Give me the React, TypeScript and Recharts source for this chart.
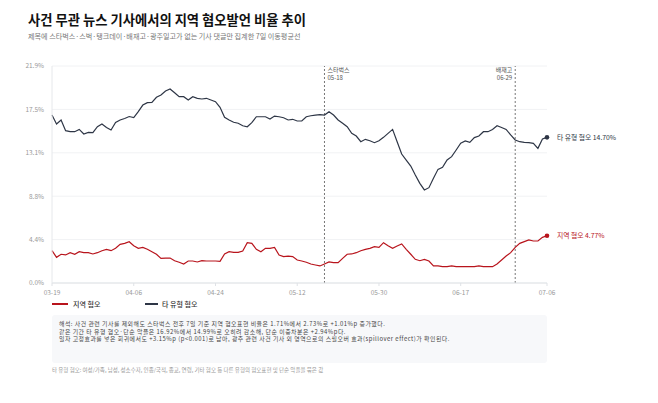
import React from 'react';
import { LineChart, Line, XAxis, YAxis, CartesianGrid, ReferenceLine } from 'recharts';

// 03-19 ~ 07-06, daily points (7-day moving average)
const dates: string[] = Array.from({ length: 110 }, (_, i) => {
  const d = new Date(2025, 2, 19 + i);
  return `${String(d.getMonth() + 1).padStart(2, '0')}-${String(d.getDate()).padStart(2, '0')}`;
});

const regionHate = [
  3.26, 2.59, 2.9, 2.83, 3.06, 2.9, 3.16, 3.06, 3.06, 2.93,
  3.06, 3.26, 3.4, 3.26, 3.5, 3.9, 4.0, 4.17, 3.76, 3.5,
  3.6, 3.4, 3.16, 2.9, 2.49, 2.52, 2.52, 2.25, 2.09, 1.92,
  2.22, 2.22, 2.12, 2.25, 2.22, 2.22, 2.22, 2.19, 2.93, 3.16,
  3.1, 3.1, 3.23, 4.07, 4.0, 3.4, 3.16, 3.5, 3.5, 3.6,
  2.83, 2.66, 2.72, 2.66, 2.32, 2.22, 2.09, 1.92, 1.82, 1.72,
  1.92, 2.12, 2.05, 2.05, 2.49, 2.9, 2.93, 3.06, 3.26, 3.4,
  3.5, 3.67, 3.6, 4.07, 3.76, 3.5, 3.73, 3.94, 3.4, 2.9,
  2.39, 2.25, 2.39, 2.22, 1.72, 1.72, 1.65, 1.65, 1.72, 1.65,
  1.65, 1.65, 1.65, 1.65, 1.72, 1.65, 1.65, 1.65, 1.92, 2.32,
  2.72, 3.06, 3.6, 4.0, 4.17, 4.34, 4.24, 4.24, 4.61, 4.77,
];

const otherHate = [
  16.95, 16.05, 16.45, 15.37, 15.27, 15.27, 15.5, 15.04, 15.2, 15.17,
  15.78, 16.05, 15.7, 15.44, 16.2, 16.45, 16.6, 16.8, 16.7, 17.3,
  17.96, 18.2, 18.23, 18.74, 18.97, 19.38, 19.58, 19.2, 18.8, 18.8,
  18.47, 18.8, 18.64, 18.57, 18.64, 18.47, 18.3, 17.73, 16.72, 16.45,
  16.22, 16.12, 15.87, 15.77, 16.18, 16.78, 16.78, 16.78, 16.55, 16.85,
  16.78, 16.68, 16.45, 16.52, 16.35, 16.35, 16.78, 16.88, 16.95, 17.0,
  16.95, 17.29, 16.95, 16.45, 16.12, 15.77, 15.1, 14.83, 14.26, 14.5,
  14.36, 14.16, 14.36, 14.7, 15.1, 15.5, 14.26, 13.02, 12.41, 11.8,
  10.9, 10.06, 9.39, 9.62, 10.57, 11.47, 11.68, 12.41, 12.75, 13.42,
  14.1, 14.33, 14.2, 14.67, 14.83, 15.27, 15.27, 15.5, 15.87, 15.7,
  15.5, 14.94, 14.43, 14.26, 14.2, 14.16, 14.1, 13.59, 14.53, 14.7,
];

const xTicks = ['03-19', '04-06', '04-24', '05-12', '05-30', '06-17', '07-06'];
const yTicks = [0, 4.38, 8.76, 13.14, 17.52, 21.9];
const events = [
  { date: '05-18', name: '스타벅스', side: 'right' },
  { date: '06-29', name: '배재고', side: 'left' },
];

const notes = [
  '해석: 사건 관련 기사를 제외해도 스타벅스 전후 7일 기준 지역 혐오표현 비율은 1.71%에서 2.73%로 +1.01%p 증가했다.',
  '같은 기간 타 유형 혐오·단순 악플은 16.92%에서 14.99%로 오히려 감소해, 단순 이중차분은 +2.94%p다.',
  '일자 고정효과를 넣은 회귀에서도 +3.15%p (p<0.001)로 남아, 광주 관련 사건 기사 외 영역으로의 스필오버 효과(spillover effect)가 확인된다.',
];

const data = dates.map((date, i) => ({ date, region: regionHate[i], other: otherHate[i] }));

const RED = '#b8141c';
const DARK = '#2e3646';
const FONT = '"Noto Sans CJK KR", "Noto Sans", sans-serif';

const endDot = (color: string, label: string) => (props: any) => {
  const { cx, cy, index } = props;
  if (index !== data.length - 1) return <g key={`d${index}`} />;
  return (
    <g key={`d${index}`}>
      <circle cx={cx} cy={cy} r={2.3} fill={color} />
      <text x={cx + 10} y={cy} dy="0.35em" fontSize={6.8} fill={color} fontFamily={FONT}>
        {label}
      </text>
    </g>
  );
};

const eventLabel = (name: string, date: string, side: string) => (props: any) => {
  const { viewBox } = props;
  const x = side === 'right' ? viewBox.x + 3 : viewBox.x - 3;
  const anchor = side === 'right' ? 'start' : 'end';
  return (
    <g>
      <text x={x} y={viewBox.y + 6} fontSize={6} fill="#555" textAnchor={anchor} fontFamily={FONT}>{name}</text>
      <text x={x} y={viewBox.y + 13.5} fontSize={6} fill="#555" textAnchor={anchor} fontFamily={FONT}>{date}</text>
    </g>
  );
};

export default function App() {
  return (
    <div style={{ position: 'relative', width: 658, height: 403, background: '#fff', fontFamily: FONT, overflow: 'hidden' }}>
      <style>{'body{margin:0}'}</style>
      <div style={{ position: 'absolute', left: 28, top: 10, fontSize: 13.3, fontWeight: 700, color: '#111', whiteSpace: 'nowrap' }}>
        사건 무관 뉴스 기사에서의 지역 혐오발언 비율 추이
      </div>
      <div style={{ position: 'absolute', left: 28, top: 31, fontSize: 7.1, color: '#777', whiteSpace: 'nowrap' }}>
        제목에 스타벅스·스벅·탱크데이·배재고·광주일고가 없는 기사 댓글만 집계한 7일 이동평균선
      </div>
      <div style={{ position: 'absolute', left: 0, top: 0 }}>
        <LineChart width={658} height={300} data={data} margin={{ top: 66, right: 111, bottom: 3, left: 0 }}>
          <CartesianGrid vertical={false} stroke="#f1f2f4" />
          <XAxis
            dataKey="date"
            ticks={xTicks}
            interval={0}
            height={14}
            tickSize={3}
            tickMargin={4}
            stroke="#dfe2e6"
            tick={{ fontSize: 6.5, fill: '#999', fontFamily: FONT }}
          />
          <YAxis
            domain={[0, 21.9]}
            ticks={yTicks}
            width={52}
            tickLine={false}
            stroke="#e6e8eb"
            tickFormatter={(v: number) => `${v.toFixed(1)}%`}
            tick={{ fontSize: 6.5, fill: '#999', fontFamily: FONT }}
          />
          {events.map((e) => (
            <ReferenceLine key={e.date} x={e.date} stroke="#777" strokeDasharray="2 2" label={eventLabel(e.name, e.date, e.side)} />
          ))}
          <Line type="linear" dataKey="other" stroke={DARK} strokeWidth={1.2} dot={endDot(DARK, '타 유형 혐오 14.70%')} activeDot={false} isAnimationActive={false} />
          <Line type="linear" dataKey="region" stroke={RED} strokeWidth={1.2} dot={endDot(RED, '지역 혐오 4.77%')} activeDot={false} isAnimationActive={false} />
        </LineChart>
      </div>
      <div style={{ position: 'absolute', left: 52, top: 299, display: 'flex', fontSize: 7, color: '#333', fontWeight: 500 }}>
        <div style={{ display: 'flex', alignItems: 'center', width: 93 }}>
          <span style={{ display: 'inline-block', width: 16, height: 1.5, background: RED, marginRight: 5 }} />
          지역 혐오
        </div>
        <div style={{ display: 'flex', alignItems: 'center' }}>
          <span style={{ display: 'inline-block', width: 13, height: 1.5, background: DARK, marginRight: 4 }} />
          타 유형 혐오
        </div>
      </div>
      <div style={{ position: 'absolute', left: 52, top: 315, width: 495, height: 48, background: '#f7f8fa', borderRadius: 3, boxSizing: 'border-box', padding: '5px 7px', fontSize: 5.9, lineHeight: '7.6px', letterSpacing: 0.5, color: '#444' }}>
        {notes.map((n) => (
          <div key={n} style={{ whiteSpace: 'nowrap' }}>{n}</div>
        ))}
      </div>
      <div style={{ position: 'absolute', left: 52, top: 366, fontSize: 5.5, color: '#999', whiteSpace: 'nowrap' }}>
        타 유형 혐오: 여성/가족, 남성, 성소수자, 인종/국적, 종교, 연령, 기타 혐오 등 다른 유형의 혐오표현 및 단순 악플을 묶은 값
      </div>
    </div>
  );
}
